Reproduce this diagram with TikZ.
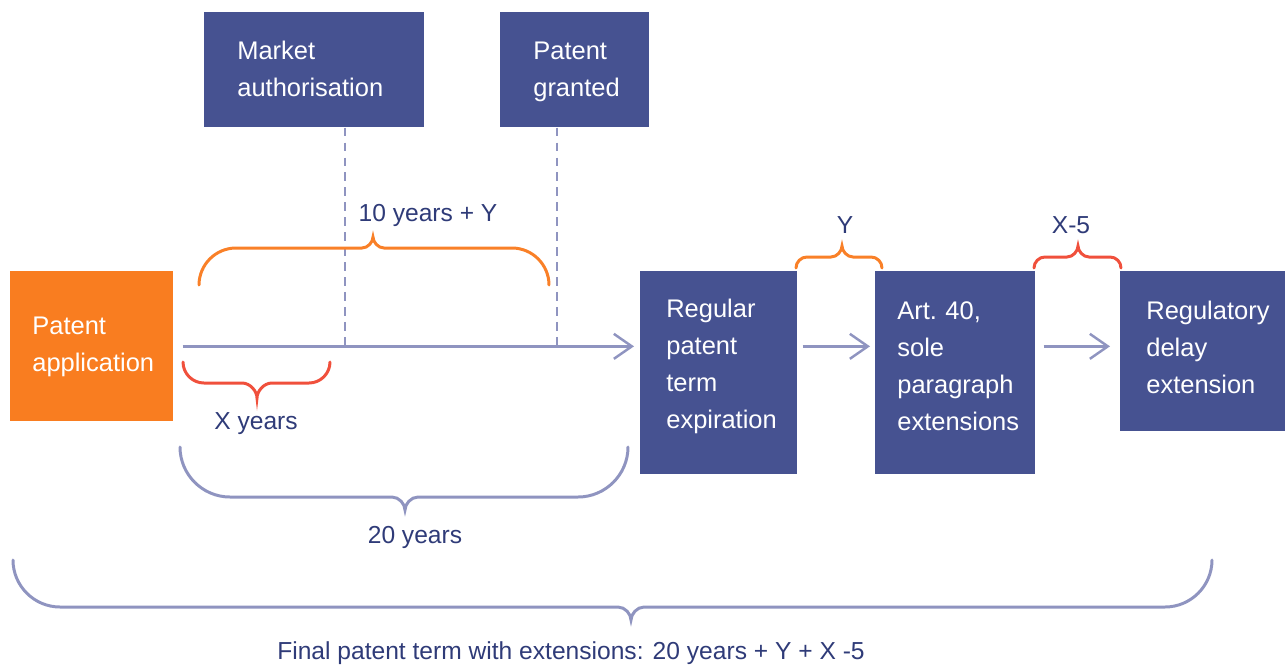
\documentclass[tikz,border=0pt]{standalone}
\usepackage{fontspec}
\setmainfont{Liberation Sans}
\usetikzlibrary{arrows.meta}
\definecolor{navy}{RGB}{70,82,145}
\definecolor{applorange}{RGB}{249,125,32}
\definecolor{axisgrey}{RGB}{143,148,192}
\definecolor{labnavy}{RGB}{47,59,120}
\definecolor{bracered}{RGB}{240,80,60}
\definecolor{braceorange}{RGB}{249,128,40}

% color, x1, x2, xtip, yend, yflat, ytip
\newcommand{\timebrace}[7]{%
  \pgfmathsetmacro\tbR{abs(#6-#5)}%
  \pgfmathsetmacro\tbS{abs(#7-#6)}%
  \pgfmathsetmacro\tbK{#5+0.55*(#6-#5)}%
  \pgfmathsetmacro\tbT{#6+0.55*(#7-#6)}%
  \draw[brace, #1] (#2,#5) .. controls (#2,\tbK) and ({#2+0.45*\tbR},#6) .. ({#2+\tbR},#6)
    -- ({#4-\tbS},#6) .. controls ({#4-0.45*\tbS},#6) and (#4,\tbT) .. (#4,#7)
    .. controls (#4,\tbT) and ({#4+0.45*\tbS},#6) .. ({#4+\tbS},#6)
    -- ({#3-\tbR},#6) .. controls ({#3-0.45*\tbR},#6) and (#3,\tbK) .. (#3,#5);
}

\begin{document}
\begin{tikzpicture}[x=0.02cm, y=-0.02cm,
  box/.style = {fill=navy, text=white, align=left, anchor=north west,
    inner ysep=0pt, font=\fontsize{14.5}{21}\selectfont},
  lab/.style = {text=labnavy, font=\fontsize{14}{17}\selectfont},
  axisline/.style = {draw=axisgrey, line width=1.4pt,
    -{Straight Barb[length=0.36cm, width=0.5cm, line width=1.4pt]}},
  guide/.style = {draw=axisgrey, line width=0.9pt, dash pattern=on 5pt off 3.5pt},
  brace/.style = {line width=1.7pt, line cap=round}]
  \useasboundingbox (0,0) rectangle (1285,667);

  \node[box, fill=applorange, inner xsep=0.44cm, text width=2.38cm, text height=1.26cm, text depth=1.74cm] (pa) at (10,271) {Patent\\application};
  \node[box, inner xsep=0.66cm, text width=3.08cm, text height=0.94cm, text depth=1.36cm] (ma) at (204,12) {Market\\authorisation};
  \node[box, inner xsep=0.66cm, text width=1.66cm, text height=0.94cm, text depth=1.36cm] (pg) at (500,12) {Patent\\granted};
  \node[box, inner xsep=0.52cm, text width=2.1cm, text height=0.92cm, text depth=3.14cm] (reg) at (640,271) {Regular\\patent\\term\\expiration};
  \node[box, inner xsep=0.44cm, text width=2.32cm, text height=0.96cm, text depth=3.1cm] (art) at (875,271) {Art.\ 40,\\sole\\paragraph\\extensions};
  \node[box, inner xsep=0.52cm, text width=2.26cm, text height=0.96cm, text depth=2.24cm] (rde) at (1120,271) {Regulatory\\delay\\extension};

  \coordinate (mat) at (345,346);
  \coordinate (pgt) at (557,346);

  \draw[guide] (ma.south -| mat) -- (mat);
  \draw[guide] (pg.south -| pgt) -- (pgt);
  \draw[axisline, shorten <=0.18cm, shorten >=0.12cm] (pa.east) -- (pa.east -| reg.west);
  \draw[axisline, shorten <=0.1cm, shorten >=0.1cm] (reg.east |- pa.east) -- (art.west |- pa.east);
  \draw[axisline, shorten <=0.16cm, shorten >=0.2cm] (art.east |- pa.east) -- (rde.west |- pa.east);

  \timebrace{braceorange}{199}{549}{373}{285}{248}{237}
  \timebrace{bracered}{183}{330}{257}{362}{383}{398}
  \timebrace{axisgrey}{180}{628}{405}{447}{497}{510}
  \timebrace{axisgrey}{13}{1212}{631}{560}{607}{620}
  \timebrace{braceorange}{796}{882}{842}{268}{257}{246}
  \timebrace{bracered}{1034}{1121}{1078}{268}{257}{246}

  \node[lab] (tenY) at (428,215) {10 years + Y};
  \node[lab] (xyrs) at (256,424) {X years};
  \node[lab] (twenty) at (415,537) {20 years};
  \node[lab] (ylab) at (845,225) {Y};
  \node[lab] (x5lab) at (1071,225) {X-5};
  \node[lab] (final) at (571,653) {Final patent term with extensions: 20 years + Y + X -5};
\end{tikzpicture}
\end{document}
